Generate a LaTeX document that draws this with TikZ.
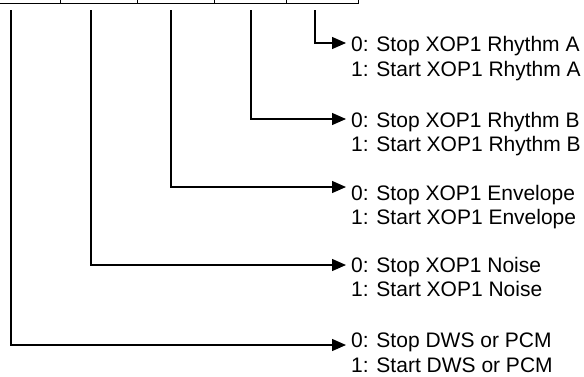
\documentclass[tikz,border=0pt]{standalone}
\usepackage{fontspec}
\setmainfont{Liberation Sans}
\usetikzlibrary{arrows.meta}
\begin{document}
\begin{tikzpicture}[x=1pt,y=-1pt,
  cell/.style={draw, line width=1.3pt, minimum height=30pt, inner sep=0pt, anchor=south west},
  conn/.style={draw, line width=1.3pt, -{Triangle[length=14pt,width=12pt]}},
  lbl/.style={anchor=base west, align=left, inner sep=0pt, font=\fontsize{21}{24.4}\selectfont}]
\useasboundingbox (0,0) rectangle (584,376);
% register cells (cut off at the top)
\node[cell, minimum width=80pt] (c1) at (-20,4) {};
\node[cell, minimum width=77pt] (c2) at (60,4) {};
\node[cell, minimum width=77pt] (c3) at (137,4) {};
\node[cell, minimum width=72pt] (c4) at (214,4) {};
\node[cell, minimum width=72pt] (c5) at (286,4) {};
% connector start and end points
\coordinate (sA) at (315,10);
\coordinate (sB) at (251,10);
\coordinate (sE) at (171,10);
\coordinate (sN) at (91,10);
\coordinate (sD) at (11,10);
\coordinate (eA) at (346,43);
\coordinate (eB) at (346,119);
\coordinate (eE) at (346,187);
\coordinate (eN) at (346,265);
\coordinate (eD) at (346,345);
% labels (anchored at the baseline of their last line)
\node[lbl] (tA) at (351,76.1) {0: Stop XOP1 Rhythm A\\1: Start XOP1 Rhythm A};
\node[lbl] (tB) at (351,151.4) {0: Stop XOP1 Rhythm B\\1: Start XOP1 Rhythm B};
\node[lbl] (tE) at (351,224.4) {0: Stop XOP1 Envelope\\1: Start XOP1 Envelope};
\node[lbl] (tN) at (351,296.4) {0: Stop XOP1 Noise\\1: Start XOP1 Noise};
\node[lbl] (tD) at (351,372.1) {0: Stop DWS or PCM\\1: Start DWS or PCM};
% connectors
\draw[conn] (sA) |- (eA);
\draw[conn] (sB) |- (eB);
\draw[conn] (sE) |- (eE);
\draw[conn] (sN) |- (eN);
\draw[conn] (sD) |- (eD);
\end{tikzpicture}
\end{document}
